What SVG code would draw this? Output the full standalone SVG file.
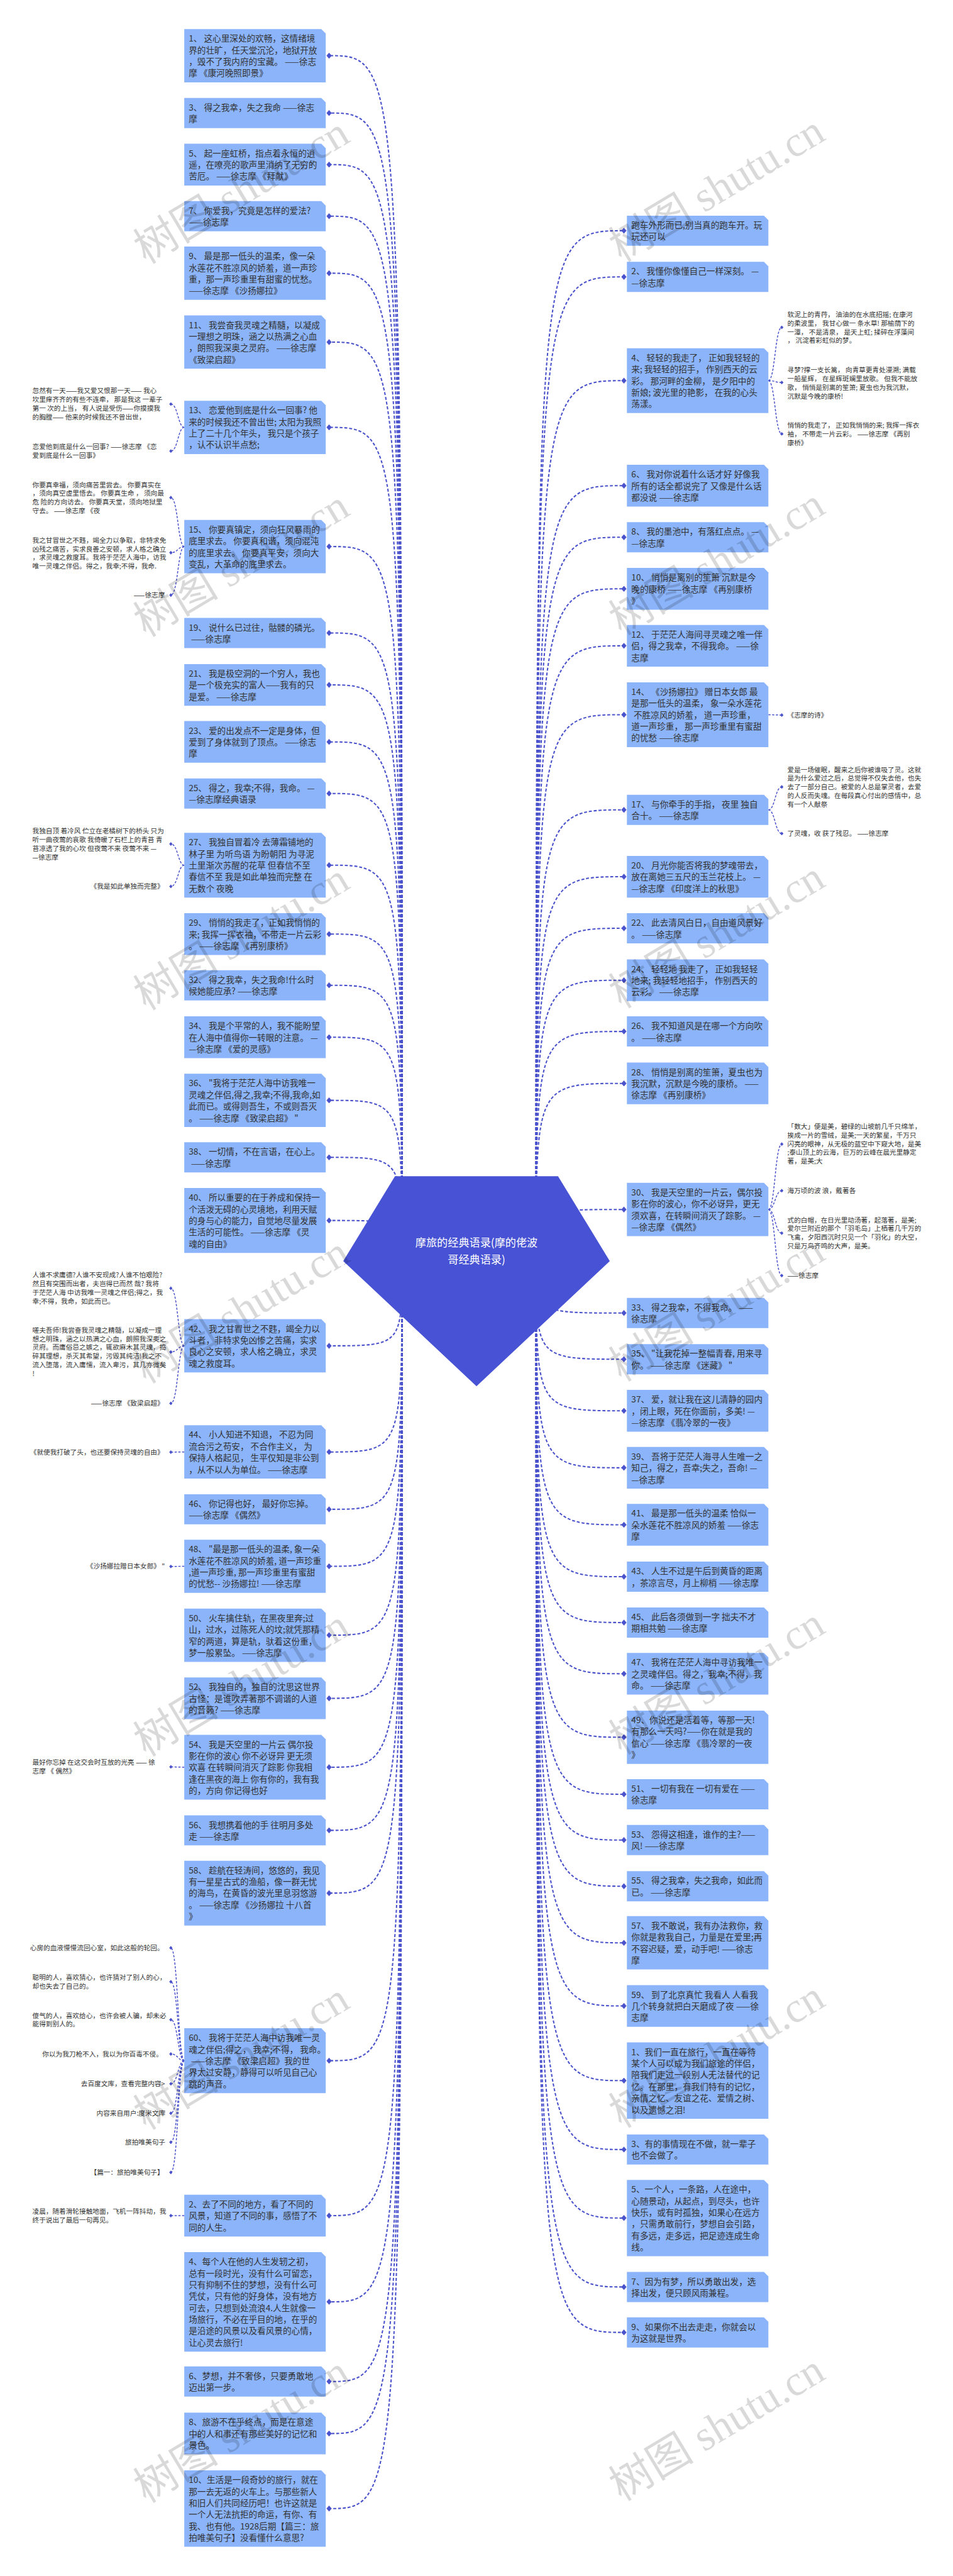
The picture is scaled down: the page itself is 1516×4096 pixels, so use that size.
<svg xmlns="http://www.w3.org/2000/svg" width="1516" height="4096" viewBox="0 0 1516 4096">
<defs>
<style>
.nb{fill:#8BB4FA}
.nt{font-family:"Noto Sans CJK SC","Noto Sans",sans-serif;font-size:23px;fill:#333}
.st{font-family:"Noto Sans CJK SC","Noto Sans",sans-serif;font-size:18px;fill:#333}
.se{font-family:"Noto Sans CJK SC","Noto Sans",sans-serif;font-size:18px;fill:#333;text-anchor:end}
.mc{fill:none;stroke:#4A52CC;stroke-width:3.5;stroke-dasharray:8 5;marker-end:url(#dm)}
.sc{fill:none;stroke:#4A52CC;stroke-width:2.5;stroke-dasharray:6 4;marker-end:url(#ds)}
.rt{font-family:"Noto Sans CJK SC","Noto Sans",sans-serif;font-size:29px;fill:#fff;text-anchor:middle}
.wm{font-family:"Liberation Serif","Noto Sans CJK SC",serif;font-size:115px;fill:#000;fill-opacity:0.15;text-anchor:middle}
</style>
<marker id="dm" markerUnits="userSpaceOnUse" markerWidth="14" markerHeight="16" refX="7" refY="8" viewBox="0 0 14 16"><path d="M0 8L7 0L14 8L7 16Z" fill="#4A52CC"/></marker>
<marker id="ds" markerUnits="userSpaceOnUse" markerWidth="9" markerHeight="10" refX="4.5" refY="5" viewBox="0 0 9 10"><path d="M0 5L4.5 0L9 5L4.5 10Z" fill="#4A52CC"/></marker>
</defs>
<rect width="1516" height="4096" fill="#fff"/>
<g transform="scale(0.5922)">
<g id="connectors">
<path class="mc" d="M1080 3386C1080 149.5 1080 149.5 884 149.5"/>
<path class="mc" d="M1080 3386C1080 303.5 1080 303.5 884 303.5"/>
<path class="mc" d="M1080 3386C1080 442 1080 442 884 442"/>
<path class="mc" d="M1080 3386C1080 580.5 1080 580.5 884 580.5"/>
<path class="mc" d="M1080 3386C1080 733.5 1080 733.5 884 733.5"/>
<path class="mc" d="M1080 3386C1080 918.5 1080 918.5 884 918.5"/>
<path class="mc" d="M1080 3386C1080 1147.5 1080 1147.5 884 1147.5"/>
<path class="mc" d="M1080 3386C1080 1467.5 1080 1467.5 884 1467.5"/>
<path class="mc" d="M1080 3386C1080 1699.5 1080 1699.5 884 1699.5"/>
<path class="mc" d="M1080 3386C1080 1839 1080 1839 884 1839"/>
<path class="mc" d="M1080 3386C1080 1992 1080 1992 884 1992"/>
<path class="mc" d="M1080 3386C1080 2130.5 1080 2130.5 884 2130.5"/>
<path class="mc" d="M1080 3386C1080 2323 1080 2323 884 2323"/>
<path class="mc" d="M1080 3386C1080 2508 1080 2508 884 2508"/>
<path class="mc" d="M1080 3386C1080 2645.5 1080 2645.5 884 2645.5"/>
<path class="mc" d="M1080 3386C1080 2785 1080 2785 884 2785"/>
<path class="mc" d="M1080 3386C1080 2954.5 1080 2954.5 884 2954.5"/>
<path class="mc" d="M1080 3386C1080 3107.5 1080 3107.5 884 3107.5"/>
<path class="mc" d="M1080 3386C1080 3277 1080 3277 884 3277"/>
<path class="mc" d="M1080 3386C1080 3613.5 1080 3613.5 884 3613.5"/>
<path class="mc" d="M1080 3386C1080 3898.5 1080 3898.5 884 3898.5"/>
<path class="mc" d="M1080 3386C1080 4052.5 1080 4052.5 884 4052.5"/>
<path class="mc" d="M1080 3386C1080 4205.5 1080 4205.5 884 4205.5"/>
<path class="mc" d="M1080 3386C1080 4390.5 1080 4390.5 884 4390.5"/>
<path class="mc" d="M1080 3386C1080 4560 1080 4560 884 4560"/>
<path class="mc" d="M1080 3386C1080 4745 1080 4745 884 4745"/>
<path class="mc" d="M1080 3386C1080 4914.5 1080 4914.5 884 4914.5"/>
<path class="mc" d="M1080 3386C1080 5083 1080 5083 884 5083"/>
<path class="mc" d="M1080 3386C1080 5533 1080 5533 884 5533"/>
<path class="mc" d="M1080 3386C1080 5949 1080 5949 884 5949"/>
<path class="mc" d="M1080 3386C1080 6180.5 1080 6180.5 884 6180.5"/>
<path class="mc" d="M1080 3386C1080 6394.5 1080 6394.5 884 6394.5"/>
<path class="mc" d="M1080 3386C1080 6534 1080 6534 884 6534"/>
<path class="mc" d="M1080 3386C1080 6735.5 1080 6735.5 884 6735.5"/>
<path class="mc" d="M1440 3386C1440 619.5 1440 619.5 1676 619.5"/>
<path class="mc" d="M1440 3386C1440 743.5 1440 743.5 1676 743.5"/>
<path class="mc" d="M1440 3386C1440 1022 1440 1022 1676 1022"/>
<path class="mc" d="M1440 3386C1440 1304 1440 1304 1676 1304"/>
<path class="mc" d="M1440 3386C1440 1442.5 1440 1442.5 1676 1442.5"/>
<path class="mc" d="M1440 3386C1440 1581 1440 1581 1676 1581"/>
<path class="mc" d="M1440 3386C1440 1734 1440 1734 1676 1734"/>
<path class="mc" d="M1440 3386C1440 1919 1440 1919 1676 1919"/>
<path class="mc" d="M1440 3386C1440 2174.5 1440 2174.5 1676 2174.5"/>
<path class="mc" d="M1440 3386C1440 2354 1440 2354 1676 2354"/>
<path class="mc" d="M1440 3386C1440 2492.5 1440 2492.5 1676 2492.5"/>
<path class="mc" d="M1440 3386C1440 2632 1440 2632 1676 2632"/>
<path class="mc" d="M1440 3386C1440 2769.5 1440 2769.5 1676 2769.5"/>
<path class="mc" d="M1440 3386C1440 2909 1440 2909 1676 2909"/>
<path class="mc" d="M1440 3386C1440 3247.5 1440 3247.5 1676 3247.5"/>
<path class="mc" d="M1440 3386C1440 3525.5 1440 3525.5 1676 3525.5"/>
<path class="mc" d="M1440 3386C1440 3649.5 1440 3649.5 1676 3649.5"/>
<path class="mc" d="M1440 3386C1440 3788 1440 3788 1676 3788"/>
<path class="mc" d="M1440 3386C1440 3941 1440 3941 1676 3941"/>
<path class="mc" d="M1440 3386C1440 4094 1440 4094 1676 4094"/>
<path class="mc" d="M1440 3386C1440 4233.5 1440 4233.5 1676 4233.5"/>
<path class="mc" d="M1440 3386C1440 4356.5 1440 4356.5 1676 4356.5"/>
<path class="mc" d="M1440 3386C1440 4494 1440 4494 1676 4494"/>
<path class="mc" d="M1440 3386C1440 4664.5 1440 4664.5 1676 4664.5"/>
<path class="mc" d="M1440 3386C1440 4817.5 1440 4817.5 1676 4817.5"/>
<path class="mc" d="M1440 3386C1440 4940.5 1440 4940.5 1676 4940.5"/>
<path class="mc" d="M1440 3386C1440 5064.5 1440 5064.5 1676 5064.5"/>
<path class="mc" d="M1440 3386C1440 5216.5 1440 5216.5 1676 5216.5"/>
<path class="mc" d="M1440 3386C1440 5386 1440 5386 1676 5386"/>
<path class="mc" d="M1440 3386C1440 5586.5 1440 5586.5 1676 5586.5"/>
<path class="mc" d="M1440 3386C1440 5771.5 1440 5771.5 1676 5771.5"/>
<path class="mc" d="M1440 3386C1440 5955.5 1440 5955.5 1676 5955.5"/>
<path class="mc" d="M1440 3386C1440 6140.5 1440 6140.5 1676 6140.5"/>
<path class="mc" d="M1440 3386C1440 6262.5 1440 6262.5 1676 6262.5"/>
<path class="sc" d="M495 1147.5C478 1147.5 478 1085 459 1085"/>
<path class="sc" d="M495 1147.5C478 1147.5 478 1211 459 1211"/>
<path class="sc" d="M495 1467.5C478 1467.5 478 1336 459 1336"/>
<path class="sc" d="M495 1467.5C478 1467.5 478 1484 459 1484"/>
<path class="sc" d="M495 1467.5C478 1467.5 478 1598 459 1598"/>
<path class="sc" d="M495 2323C478 2323 478 2266 459 2266"/>
<path class="sc" d="M495 2323C478 2323 478 2380 459 2380"/>
<path class="sc" d="M495 3613.5C478 3613.5 478 3459 459 3459"/>
<path class="sc" d="M495 3613.5C478 3613.5 478 3630 459 3630"/>
<path class="sc" d="M495 3613.5C478 3613.5 478 3768 459 3768"/>
<path class="sc" d="M495 3898.5L459 3899"/>
<path class="sc" d="M495 4205.5L459 4206"/>
<path class="sc" d="M495 4745L459 4744"/>
<path class="sc" d="M495 5533C478 5533 478 5230 459 5230"/>
<path class="sc" d="M495 5533C478 5533 478 5321 459 5321"/>
<path class="sc" d="M495 5533C478 5533 478 5423 459 5423"/>
<path class="sc" d="M495 5533C478 5533 478 5515 459 5515"/>
<path class="sc" d="M495 5533C478 5533 478 5595 459 5595"/>
<path class="sc" d="M495 5533C478 5533 478 5674 459 5674"/>
<path class="sc" d="M495 5533C478 5533 478 5752 459 5752"/>
<path class="sc" d="M495 5533C478 5533 478 5833 459 5833"/>
<path class="sc" d="M495 5949L459 5949"/>
<path class="sc" d="M2064 1022C2082 1022 2082 879 2100 879"/>
<path class="sc" d="M2064 1022C2082 1022 2082 1027 2100 1027"/>
<path class="sc" d="M2064 1022C2082 1022 2082 1165 2100 1165"/>
<path class="sc" d="M2064 1919L2100 1920"/>
<path class="sc" d="M2064 2174.5C2082 2174.5 2082 2113 2100 2113"/>
<path class="sc" d="M2064 2174.5C2082 2174.5 2082 2238 2100 2238"/>
<path class="sc" d="M2064 3247.5C2082 3247.5 2082 3072 2100 3072"/>
<path class="sc" d="M2064 3247.5C2082 3247.5 2082 3197 2100 3197"/>
<path class="sc" d="M2064 3247.5C2082 3247.5 2082 3311 2100 3311"/>
<path class="sc" d="M2064 3247.5C2082 3247.5 2082 3425 2100 3425"/>
</g>
<g id="root">
<polygon points="1061,3158 1499,3158 1638,3386 1280,3722 922,3386" fill="#4752D4"/>
<text class="rt" x="1280" y="3346">摩旅的经典语录(摩的佬波</text>
<text class="rt" x="1280" y="3392">哥经典语录)</text>
</g>
<g id="n-l1"><path class="nb" d="M495 78H863L875 90V221H495Z"/><text class="nt" x="507" y="112"><tspan x="507">1、 这心里深处的欢畅，这情绪境</tspan><tspan x="507" dy="31">界的壮旷，任天堂沉沦，地狱开放</tspan><tspan x="507" dy="31">，毁不了我内府的宝藏。 ——徐志</tspan><tspan x="507" dy="31">摩 《康河晚照即景》</tspan></text></g>
<g id="n-l3"><path class="nb" d="M495 263H863L875 275V344H495Z"/><text class="nt" x="507" y="297"><tspan x="507">3、 得之我幸，失之我命 ——徐志</tspan><tspan x="507" dy="31">摩</tspan></text></g>
<g id="n-l5"><path class="nb" d="M495 386H863L875 398V498H495Z"/><text class="nt" x="507" y="420"><tspan x="507">5、 起一座虹桥，指点着永恒的逍</tspan><tspan x="507" dy="31">遥，在嘹亮的歌声里消纳了无穷的</tspan><tspan x="507" dy="31">苦厄。 ——徐志摩 《拜献》</tspan></text></g>
<g id="n-l7"><path class="nb" d="M495 540H863L875 552V621H495Z"/><text class="nt" x="507" y="574"><tspan x="507">7、 你爱我，究竟是怎样的爱法?</tspan><tspan x="507" dy="31">——徐志摩</tspan></text></g>
<g id="n-l9"><path class="nb" d="M495 662H863L875 674V805H495Z"/><text class="nt" x="507" y="696"><tspan x="507">9、 最是那一低头的温柔，像一朵</tspan><tspan x="507" dy="31">水莲花不胜凉风的娇羞，道一声珍</tspan><tspan x="507" dy="31">重，那一声珍重里有甜蜜的忧愁。</tspan><tspan x="507" dy="31">——徐志摩 《沙扬娜拉》</tspan></text></g>
<g id="n-l11"><path class="nb" d="M495 847H863L875 859V990H495Z"/><text class="nt" x="507" y="881"><tspan x="507">11、 我尝奋我灵魂之精髓，以凝成</tspan><tspan x="507" dy="31">一理想之明珠，涵之以热满之心血</tspan><tspan x="507" dy="31">，朗照我深奥之灵府。 ——徐志摩</tspan><tspan x="507" dy="31">《致梁启超》</tspan></text></g>
<g id="n-l13"><path class="nb" d="M495 1076H863L875 1088V1219H495Z"/><text class="nt" x="507" y="1110"><tspan x="507">13、 恋爱他到底是什么一回事? 他</tspan><tspan x="507" dy="31">来的时候我还不曾出世; 太阳为我照</tspan><tspan x="507" dy="31">上了二十几个年头， 我只是个孩子</tspan><tspan x="507" dy="31">，认不认识半点愁;</tspan></text></g>
<g id="n-l13a"><text class="st" x="87" y="1056"><tspan x="87">忽然有一天——我又爱又恨那一天—— 我心</tspan><tspan x="87" dy="23.5">坎里痒齐齐的有些不连牵， 那是我这 一辈子</tspan><tspan x="87" dy="23.5">第一 次的上当， 有人说是受伤——你摸摸我</tspan><tspan x="87" dy="23.5">的胸膛—— 他来的时候我还不曾出世，</tspan></text></g>
<g id="n-l13b"><text class="st" x="87" y="1206"><tspan x="87">恋爱他到底是什么一回事? ——徐志摩 《恋</tspan><tspan x="87" dy="23">爱到底是什么一回事》</tspan></text></g>
<g id="n-l15"><path class="nb" d="M495 1396H863L875 1408V1539H495Z"/><text class="nt" x="507" y="1430"><tspan x="507">15、 你要真镇定，须向狂风暴雨的</tspan><tspan x="507" dy="31">底里求去。 你要真和谐，须向混沌</tspan><tspan x="507" dy="31">的底里求去。 你要真平安，须向大</tspan><tspan x="507" dy="31">变乱，大革命的底里求去。</tspan></text></g>
<g id="n-l15a"><text class="st" x="87" y="1308"><tspan x="87">你要真幸福，须向痛苦里尝去。 你要真实在</tspan><tspan x="87" dy="23.3">，须向真空虚里悟去。 你要真生命 ， 须向最</tspan><tspan x="87" dy="23.3">危 险的方向访去。 你要真天堂，须向地狱里</tspan><tspan x="87" dy="23.3">守去。 ——徐志摩 《夜</tspan></text></g>
<g id="n-l15b"><text class="st" x="87" y="1457"><tspan x="87">我之甘冒世之不韪，竭全力以争取，非特求免</tspan><tspan x="87" dy="23.3">凶残之痛苦，实求良善之安顿，求人格之确立</tspan><tspan x="87" dy="23.3">，求灵魂之救度耳。我将于茫茫人海中，访我</tspan><tspan x="87" dy="23.3">唯一灵魂之伴侣。得之，我幸;不得，我命.</tspan></text></g>
<g id="n-l15c"><text class="se" x="443" y="1605">——徐志摩</text></g>
<g id="n-l19"><path class="nb" d="M495 1659H863L875 1671V1740H495Z"/><text class="nt" x="507" y="1693"><tspan x="507">19、 说什么已过往，骷髅的磷光。</tspan><tspan x="513" dy="31">——徐志摩</tspan></text></g>
<g id="n-l21"><path class="nb" d="M495 1783H863L875 1795V1895H495Z"/><text class="nt" x="507" y="1817"><tspan x="507">21、 我是极空洞的一个穷人，我也</tspan><tspan x="507" dy="31">是一个极充实的富人——我有的只</tspan><tspan x="507" dy="31">是爱。 ——徐志摩</tspan></text></g>
<g id="n-l23"><path class="nb" d="M495 1936H863L875 1948V2048H495Z"/><text class="nt" x="507" y="1970"><tspan x="507">23、 爱的出发点不一定是身体，但</tspan><tspan x="507" dy="31">爱到了身体就到了顶点。 ——徐志</tspan><tspan x="507" dy="31">摩</tspan></text></g>
<g id="n-l25"><path class="nb" d="M495 2090H863L875 2102V2171H495Z"/><text class="nt" x="507" y="2124"><tspan x="507">25、 得之，我幸;不得，我命。 —</tspan><tspan x="507" dy="31">—徐志摩经典语录</tspan></text></g>
<g id="n-l27"><path class="nb" d="M495 2236H863L875 2248V2410H495Z"/><text class="nt" x="507" y="2270"><tspan x="507">27、 我独自冒着冷 去薄霜铺地的</tspan><tspan x="507" dy="31">林子里 为听鸟语 为盼朝阳 为寻泥</tspan><tspan x="507" dy="31">土里渐次苏醒的花草 但春信不至</tspan><tspan x="507" dy="31">春信不至 我是如此单独而完整 在</tspan><tspan x="507" dy="31">无数个 夜晚</tspan></text></g>
<g id="n-l27a"><text class="st" x="87" y="2238"><tspan x="87">我独自顶 着冷风 伫立在老橘树下的桥头 只为</tspan><tspan x="87" dy="23.3">听一曲夜莺的哀歌 我倚暖了石栏上的青苔 青</tspan><tspan x="87" dy="23.3">苔凉透了我的心坎 但夜莺不来 夜莺不来 —</tspan><tspan x="87" dy="23.3">—徐志摩</tspan></text></g>
<g id="n-l27b"><text class="se" x="440" y="2386">《我是如此单独而完整》</text></g>
<g id="n-l29"><path class="nb" d="M495 2452H863L875 2464V2564H495Z"/><text class="nt" x="507" y="2486"><tspan x="507">29、 悄悄的我走了，正如我悄悄的</tspan><tspan x="507" dy="31">来; 我挥一挥衣袖，不带走一片云彩</tspan><tspan x="507" dy="31">。 ——徐志摩 《再别康桥》</tspan></text></g>
<g id="n-l32"><path class="nb" d="M495 2605H863L875 2617V2686H495Z"/><text class="nt" x="507" y="2639"><tspan x="507">32、 得之我幸，失之我命!什么时</tspan><tspan x="507" dy="31">候她能应承? ——徐志摩</tspan></text></g>
<g id="n-l34"><path class="nb" d="M495 2729H863L875 2741V2841H495Z"/><text class="nt" x="507" y="2763"><tspan x="507">34、 我是个平常的人，我不能盼望</tspan><tspan x="507" dy="31">在人海中值得你一转眼的注意。 —</tspan><tspan x="507" dy="31">—徐志摩 《爱的灵感》</tspan></text></g>
<g id="n-l36"><path class="nb" d="M495 2883H863L875 2895V3026H495Z"/><text class="nt" x="507" y="2917"><tspan x="507">36、 "我将于茫茫人海中访我唯一</tspan><tspan x="507" dy="31">灵魂之伴侣,得之,我幸;不得,我命,如</tspan><tspan x="507" dy="31">此而已。或得则吾生，不或则吾灭</tspan><tspan x="507" dy="31">。 ——徐志摩 《致梁启超》 "</tspan></text></g>
<g id="n-l38"><path class="nb" d="M495 3067H863L875 3079V3148H495Z"/><text class="nt" x="507" y="3101"><tspan x="507">38、 一切情，不在言语，在心上。</tspan><tspan x="513" dy="31">——徐志摩</tspan></text></g>
<g id="n-l40"><path class="nb" d="M495 3190H863L875 3202V3364H495Z"/><text class="nt" x="507" y="3224"><tspan x="507">40、 所以重要的在于养成和保持一</tspan><tspan x="507" dy="31">个活泼无碍的心灵境地，利用天赋</tspan><tspan x="507" dy="31">的身与心的能力，自觉地尽量发展</tspan><tspan x="507" dy="31">生活的可能性。 ——徐志摩 《灵</tspan><tspan x="507" dy="31">魂的自由》</tspan></text></g>
<g id="n-l42"><path class="nb" d="M495 3542H863L875 3554V3685H495Z"/><text class="nt" x="507" y="3576"><tspan x="507">42、 我之甘冒世之不韪，竭全力以</tspan><tspan x="507" dy="31">斗者，非特求免凶惨之苦痛，实求</tspan><tspan x="507" dy="31">良心之安顿，求人格之确立，求灵</tspan><tspan x="507" dy="31">魂之救度耳。</tspan></text></g>
<g id="n-l42a"><text class="st" x="87" y="3430"><tspan x="87">人谁不求庸德?人谁不安现成?人谁不怕艰险?</tspan><tspan x="87" dy="23.3">然且有突围而出者，夫岂得已而然 哉? 我将</tspan><tspan x="87" dy="23.3">于茫茫人海 中访我唯一灵魂之伴侣;得之，我</tspan><tspan x="87" dy="23.3">幸;不得，我命，如此而已。</tspan></text></g>
<g id="n-l42b"><text class="st" x="87" y="3578"><tspan x="87">嗟夫吾师!我尝奋我灵魂之精髓，以凝成一理</tspan><tspan x="87" dy="23.3">想之明珠，涵之以热满之心血，朗照我深奥之</tspan><tspan x="87" dy="23.3">灵府。而庸俗忌之嫉之，辄欲麻木其灵魂，捣</tspan><tspan x="87" dy="23.3">碎其理想，杀灭其希望，污毁其纯洁!我之不</tspan><tspan x="87" dy="23.3">流入堕落，流入庸懦，流入卑污，其几亦微矣</tspan><tspan x="87" dy="23.3">!</tspan></text></g>
<g id="n-l42c"><text class="se" x="440" y="3774">——徐志摩 《致梁启超》</text></g>
<g id="n-l44"><path class="nb" d="M495 3827H863L875 3839V3970H495Z"/><text class="nt" x="507" y="3861"><tspan x="507">44、 小人知进不知退， 不忍为同</tspan><tspan x="507" dy="31">流合污之苟安， 不合作主义， 为</tspan><tspan x="507" dy="31">保持人格起见， 生平仅知是非公到</tspan><tspan x="507" dy="31">，从不以人为单位。 ——徐志摩</tspan></text></g>
<g id="n-l44a"><text class="se" x="440" y="3905">《就使我打破了头，也还要保持灵魂的自由》</text></g>
<g id="n-l46"><path class="nb" d="M495 4012H863L875 4024V4093H495Z"/><text class="nt" x="507" y="4046"><tspan x="507">46、 你记得也好， 最好你忘掉。</tspan><tspan x="507" dy="31">——徐志摩 《偶然》</tspan></text></g>
<g id="n-l48"><path class="nb" d="M495 4134H863L875 4146V4277H495Z"/><text class="nt" x="507" y="4168"><tspan x="507">48、 "最是那一低头的温柔, 象一朵</tspan><tspan x="507" dy="31">水莲花不胜凉风的娇羞, 道一声珍重</tspan><tspan x="507" dy="31">,道一声珍重, 那一声珍重里有蜜甜</tspan><tspan x="507" dy="31">的忧愁-- 沙扬娜拉! ——徐志摩</tspan></text></g>
<g id="n-l48a"><text class="se" x="443" y="4212">《沙扬娜拉赠日本女郎》 "</text></g>
<g id="n-l50"><path class="nb" d="M495 4319H863L875 4331V4462H495Z"/><text class="nt" x="507" y="4353"><tspan x="507">50、 火车擒住轨，在黑夜里奔;过</tspan><tspan x="507" dy="31">山，过水，过陈死人的坟;就凭那精</tspan><tspan x="507" dy="31">窄的两道，算是轨，驮着这份重，</tspan><tspan x="507" dy="31">梦一般累坠。 ——徐志摩</tspan></text></g>
<g id="n-l52"><path class="nb" d="M495 4504H863L875 4516V4616H495Z"/><text class="nt" x="507" y="4538"><tspan x="507">52、 我独自的，独自的沈思这世界</tspan><tspan x="507" dy="31">古怪：是谁吹弄著那不调谐的人道</tspan><tspan x="507" dy="31">的音籁? ——徐志摩</tspan></text></g>
<g id="n-l54"><path class="nb" d="M495 4658H863L875 4670V4832H495Z"/><text class="nt" x="507" y="4692"><tspan x="507">54、 我是天空里的一片云 偶尔投</tspan><tspan x="507" dy="31">影在你的波心 你不必讶异 更无须</tspan><tspan x="507" dy="31">欢喜 在转瞬间消灭了踪影 你我相</tspan><tspan x="507" dy="31">逢在黑夜的海上 你有你的，我有我</tspan><tspan x="507" dy="31">的，方向 你记得也好</tspan></text></g>
<g id="n-l54a"><text class="st" x="87" y="4739"><tspan x="87">最好你忘掉 在这交会时互放的光亮 —— 徐</tspan><tspan x="87" dy="23.3">志摩 《 偶然》</tspan></text></g>
<g id="n-l56"><path class="nb" d="M495 4874H863L875 4886V4955H495Z"/><text class="nt" x="507" y="4908"><tspan x="507">56、 我想携着他的手 往明月多处</tspan><tspan x="507" dy="31">走 ——徐志摩</tspan></text></g>
<g id="n-l58"><path class="nb" d="M495 4996H863L875 5008V5170H495Z"/><text class="nt" x="507" y="5030"><tspan x="507">58、 趁航在轻涛间，悠悠的，我见</tspan><tspan x="507" dy="31">有一星星古式的渔船，像一群无忧</tspan><tspan x="507" dy="31">的海鸟，在黄昏的波光里息羽悠游</tspan><tspan x="507" dy="31">。 ——徐志摩 《沙扬娜拉 十八首</tspan><tspan x="507" dy="31">》</tspan></text></g>
<g id="n-l60"><path class="nb" d="M495 5446H863L875 5458V5620H495Z"/><text class="nt" x="507" y="5480"><tspan x="507">60、 我将于茫茫人海中访我唯一灵</tspan><tspan x="507" dy="31">魂之伴侣;得之， 我幸;不得， 我命。</tspan><tspan x="513" dy="31">——徐志摩 《致梁启超》我的世</tspan><tspan x="507" dy="31">界太过安静，静得可以听见自己心</tspan><tspan x="507" dy="31">跳的声音。</tspan></text></g>
<g id="n-l60a"><text class="se" x="440" y="5236">心房的血液慢慢流回心室，如此这般的轮回。</text></g>
<g id="n-l60b"><text class="st" x="87" y="5316"><tspan x="87">聪明的人，喜欢猜心，也许猜对了别人的心，</tspan><tspan x="87" dy="23.3">却也失去了自己的。</tspan></text></g>
<g id="n-l60c"><text class="st" x="87" y="5418"><tspan x="87">傻气的人，喜欢给心，也许会被人骗，却未必</tspan><tspan x="87" dy="23.3">能得到别人的。</tspan></text></g>
<g id="n-l60d"><text class="se" x="437" y="5521">你以为我刀枪不入，我以为你百毒不侵。</text></g>
<g id="n-l60e"><text class="se" x="443" y="5601">去百度文库，查看完整内容&gt;</text></g>
<g id="n-l60f"><text class="se" x="444" y="5680">内容来自用户:度米文库</text></g>
<g id="n-l60g"><text class="se" x="444" y="5758">旅拍唯美句子</text></g>
<g id="n-l60h"><text class="se" x="440" y="5839">【篇一：旅拍唯美句子】</text></g>
<g id="n-l2b"><path class="nb" d="M495 5893H863L875 5905V6005H495Z"/><text class="nt" x="507" y="5927"><tspan x="507">2、去了不同的地方，看了不同的</tspan><tspan x="507" dy="31">风景，知道了不同的事，感悟了不</tspan><tspan x="507" dy="31">同的人生。</tspan></text></g>
<g id="n-l2ba"><text class="st" x="87" y="5944"><tspan x="87">凌晨，随着滑轮接触地面，飞机一阵抖动，我</tspan><tspan x="87" dy="23.3">终于说出了最后一句再见。</tspan></text></g>
<g id="n-l4b"><path class="nb" d="M495 6047H863L875 6059V6314H495Z"/><text class="nt" x="507" y="6081"><tspan x="507">4、每个人在他的人生发轫之初，</tspan><tspan x="507" dy="31">总有一段时光，没有什么可留恋，</tspan><tspan x="507" dy="31">只有抑制不住的梦想，没有什么可</tspan><tspan x="507" dy="31">凭仗，只有他的好身体，没有地方</tspan><tspan x="507" dy="31">可去，只想到处流浪4.人生就像一</tspan><tspan x="507" dy="31">场旅行，不必在乎目的地，在乎的</tspan><tspan x="507" dy="31">是沿途的风景以及看风景的心情，</tspan><tspan x="507" dy="31">让心灵去旅行!</tspan></text></g>
<g id="n-l6b"><path class="nb" d="M495 6354H863L875 6366V6435H495Z"/><text class="nt" x="507" y="6388"><tspan x="507">6、梦想，并不奢侈，只要勇敢地</tspan><tspan x="507" dy="31">迈出第一步。</tspan></text></g>
<g id="n-l8b"><path class="nb" d="M495 6478H863L875 6490V6590H495Z"/><text class="nt" x="507" y="6512"><tspan x="507">8、旅游不在乎终点，而是在意途</tspan><tspan x="507" dy="31">中的人和事还有那些美好的记忆和</tspan><tspan x="507" dy="31">景色。</tspan></text></g>
<g id="n-l10b"><path class="nb" d="M495 6633H863L875 6645V6838H495Z"/><text class="nt" x="507" y="6667"><tspan x="507">10、生活是一段奇妙的旅行，就在</tspan><tspan x="507" dy="31">那一去无返的火车上。与那些新人</tspan><tspan x="507" dy="31">和旧人们共同经历吧！也许这就是</tspan><tspan x="507" dy="31">一个人无法抗拒的命运，有你、有</tspan><tspan x="507" dy="31">我、也有他。1928后期【篇三：旅</tspan><tspan x="507" dy="31">拍唯美句子】没看懂什么意思?</tspan></text></g>
<g id="n-r0"><path class="nb" d="M1684 579H2052L2064 591V660H1684Z"/><text class="nt" x="1696" y="613"><tspan x="1696">跑车外形而已,别当真的跑车开。玩</tspan><tspan x="1696" dy="31">玩还可以</tspan></text></g>
<g id="n-r2"><path class="nb" d="M1684 703H2052L2064 715V784H1684Z"/><text class="nt" x="1696" y="737"><tspan x="1696">2、 我懂你像懂自己一样深刻。 —</tspan><tspan x="1696" dy="31">—徐志摩</tspan></text></g>
<g id="n-r4"><path class="nb" d="M1684 935H2052L2064 947V1109H1684Z"/><text class="nt" x="1696" y="969"><tspan x="1696">4、 轻轻的我走了， 正如我轻轻的</tspan><tspan x="1696" dy="31">来; 我轻轻的招手， 作别西天的云</tspan><tspan x="1696" dy="31">彩。 那河畔的金柳， 是夕阳中的</tspan><tspan x="1696" dy="31">新娘; 波光里的艳影， 在我的心头</tspan><tspan x="1696" dy="31">荡漾。</tspan></text></g>
<g id="n-r4a"><text class="st" x="2115" y="851"><tspan x="2115">软泥上的青荇， 油油的在水底招摇; 在康河</tspan><tspan x="2115" dy="23.3">的柔波里， 我甘心做一 条水草! 那榆荫下的</tspan><tspan x="2115" dy="23.3">一潭， 不是清泉， 是天上虹; 揉碎在浮藻间</tspan><tspan x="2115" dy="23.3">， 沉淀着彩虹似的梦。</tspan></text></g>
<g id="n-r4b"><text class="st" x="2115" y="1000"><tspan x="2115">寻梦?撑一支长篙， 向青草更青处漫溯; 满载</tspan><tspan x="2115" dy="23.3">一船星辉， 在星辉斑斓里放歌。 但我不能放</tspan><tspan x="2115" dy="23.3">歌， 悄悄是别离的笙箫; 夏虫也为我沉默，</tspan><tspan x="2115" dy="23.3">沉默是今晚的康桥!</tspan></text></g>
<g id="n-r4c"><text class="st" x="2115" y="1149"><tspan x="2115">悄悄的我走了， 正如我悄悄的来; 我挥一挥衣</tspan><tspan x="2115" dy="23.3">袖， 不带走一片云彩。 ——徐志摩 《再别</tspan><tspan x="2115" dy="23.3">康桥》</tspan></text></g>
<g id="n-r6"><path class="nb" d="M1684 1248H2052L2064 1260V1360H1684Z"/><text class="nt" x="1696" y="1282"><tspan x="1696">6、 我对你说着什么话才好 好像我</tspan><tspan x="1696" dy="31">所有的话全都说完了 又像是什么话</tspan><tspan x="1696" dy="31">都没说 ——徐志摩</tspan></text></g>
<g id="n-r8"><path class="nb" d="M1684 1402H2052L2064 1414V1483H1684Z"/><text class="nt" x="1696" y="1436"><tspan x="1696">8、 我的墨池中，有落红点点。 —</tspan><tspan x="1696" dy="31">—徐志摩</tspan></text></g>
<g id="n-r10"><path class="nb" d="M1684 1525H2052L2064 1537V1637H1684Z"/><text class="nt" x="1696" y="1559"><tspan x="1696">10、 悄悄是离别的笙箫 沉默是今</tspan><tspan x="1696" dy="31">晚的康桥 ——徐志摩 《再别康桥</tspan><tspan x="1696" dy="31">》</tspan></text></g>
<g id="n-r12"><path class="nb" d="M1684 1678H2052L2064 1690V1790H1684Z"/><text class="nt" x="1696" y="1712"><tspan x="1696">12、 于茫茫人海间寻灵魂之唯一伴</tspan><tspan x="1696" dy="31">侣，得之我幸，不得我命。 ——徐</tspan><tspan x="1696" dy="31">志摩</tspan></text></g>
<g id="n-r14"><path class="nb" d="M1684 1832H2052L2064 1844V2006H1684Z"/><text class="nt" x="1696" y="1866"><tspan x="1696">14、 《沙扬娜拉》 赠日本女郎 最</tspan><tspan x="1696" dy="31">是那一低头的温柔， 象一朵水莲花</tspan><tspan x="1702" dy="31">不胜凉风的娇羞， 道一声珍重，</tspan><tspan x="1696" dy="31">道一声珍重， 那一声珍重里有蜜甜</tspan><tspan x="1696" dy="31">的忧愁 ——徐志摩</tspan></text></g>
<g id="n-r14a"><text class="st" x="2115" y="1926">《志摩的诗》</text></g>
<g id="n-r17"><path class="nb" d="M1684 2134H2052L2064 2146V2215H1684Z"/><text class="nt" x="1696" y="2168"><tspan x="1696">17、 与你牵手的手指， 夜里 独自</tspan><tspan x="1696" dy="31">合十。 ——徐志摩</tspan></text></g>
<g id="n-r17a"><text class="st" x="2115" y="2073"><tspan x="2115">爱是一场催眠，醒来之后你被谁吸了灵。这就</tspan><tspan x="2115" dy="23.3">是为什么爱过之后，总觉得不仅失去他，也失</tspan><tspan x="2115" dy="23.3">去了一部分自己。被爱的人总是掌灵者，去爱</tspan><tspan x="2115" dy="23.3">的人反而失魂。在每段真心付出的感情中，总</tspan><tspan x="2115" dy="23.3">有一个人献祭</tspan></text></g>
<g id="n-r17b"><text class="st" x="2115" y="2244">了灵魂，收 获了残忍。 ——徐志摩</text></g>
<g id="n-r20"><path class="nb" d="M1684 2298H2052L2064 2310V2410H1684Z"/><text class="nt" x="1696" y="2332"><tspan x="1696">20、 月光你能否将我的梦魂带去，</tspan><tspan x="1696" dy="31">放在离她三五尺的玉兰花枝上。 —</tspan><tspan x="1696" dy="31">—徐志摩 《印度洋上的秋思》</tspan></text></g>
<g id="n-r22"><path class="nb" d="M1684 2452H2052L2064 2464V2533H1684Z"/><text class="nt" x="1696" y="2486"><tspan x="1696">22、 此去清风白日，自由道风景好</tspan><tspan x="1696" dy="31">。 ——徐志摩</tspan></text></g>
<g id="n-r24"><path class="nb" d="M1684 2576H2052L2064 2588V2688H1684Z"/><text class="nt" x="1696" y="2610"><tspan x="1696">24、 轻轻地 我走了， 正如我轻轻</tspan><tspan x="1696" dy="31">地来; 我轻轻地招手， 作别西天的</tspan><tspan x="1696" dy="31">云彩。 ——徐志摩</tspan></text></g>
<g id="n-r26"><path class="nb" d="M1684 2729H2052L2064 2741V2810H1684Z"/><text class="nt" x="1696" y="2763"><tspan x="1696">26、 我不知道风是在哪一个方向吹</tspan><tspan x="1696" dy="31">。 ——徐志摩</tspan></text></g>
<g id="n-r28"><path class="nb" d="M1684 2853H2052L2064 2865V2965H1684Z"/><text class="nt" x="1696" y="2887"><tspan x="1696">28、 悄悄是别离的笙箫，夏虫也为</tspan><tspan x="1696" dy="31">我沉默，沉默是今晚的康桥。 ——</tspan><tspan x="1696" dy="31">徐志摩 《再别康桥》</tspan></text></g>
<g id="n-r30"><path class="nb" d="M1684 3176H2052L2064 3188V3319H1684Z"/><text class="nt" x="1696" y="3210"><tspan x="1696">30、 我是天空里的一片云，偶尔投</tspan><tspan x="1696" dy="31">影在你的波心，你不必讶异，更无</tspan><tspan x="1696" dy="31">须欢喜，在转瞬间消灭了踪影。 —</tspan><tspan x="1696" dy="31">—徐志摩 《偶然》</tspan></text></g>
<g id="n-r30a"><text class="st" x="2115" y="3031"><tspan x="2115">「数大」便是美，碧绿的山坡前几千只绵羊，</tspan><tspan x="2115" dy="23.3">挨成一片的雪绒，是美;一天的繁星，千万只</tspan><tspan x="2115" dy="23.3">闪亮的眼神，从无极的蓝空中下窥大地，是美</tspan><tspan x="2115" dy="23.3">;泰山顶上的云海，巨万的云峰在晨光里静定</tspan><tspan x="2115" dy="23.3">著，是美;大</tspan></text></g>
<g id="n-r30b"><text class="st" x="2115" y="3203">海万顷的波 浪，戴著各</text></g>
<g id="n-r30c"><text class="st" x="2115" y="3282"><tspan x="2115">式的白帽，在日光里动汤著，起落著，是美;</tspan><tspan x="2115" dy="23.3">爱尔兰附近的那个「羽毛岛」上栖著几千万的</tspan><tspan x="2115" dy="23.3">飞禽，夕阳西沉时只见一个「羽化」的大空，</tspan><tspan x="2115" dy="23.3">只是万鸟齐鸣的大声，是美。</tspan></text></g>
<g id="n-r30d"><text class="st" x="2115" y="3431">——徐志摩</text></g>
<g id="n-r33"><path class="nb" d="M1684 3485H2052L2064 3497V3566H1684Z"/><text class="nt" x="1696" y="3519"><tspan x="1696">33、 得之我幸，不得我命。 ——</tspan><tspan x="1696" dy="31">徐志摩</tspan></text></g>
<g id="n-r35"><path class="nb" d="M1684 3609H2052L2064 3621V3690H1684Z"/><text class="nt" x="1696" y="3643"><tspan x="1696">35、 "让我花掉一整幅青春, 用来寻</tspan><tspan x="1696" dy="31">你。 ——徐志摩 《迷藏》 "</tspan></text></g>
<g id="n-r37"><path class="nb" d="M1684 3732H2052L2064 3744V3844H1684Z"/><text class="nt" x="1696" y="3766"><tspan x="1696">37、 爱，就让我在这儿清静的园内</tspan><tspan x="1696" dy="31">，闭上眼，死在你面前，多美! —</tspan><tspan x="1696" dy="31">—徐志摩 《翡冷翠的一夜》</tspan></text></g>
<g id="n-r39"><path class="nb" d="M1684 3885H2052L2064 3897V3997H1684Z"/><text class="nt" x="1696" y="3919"><tspan x="1696">39、 吾将于茫茫人海寻人生唯一之</tspan><tspan x="1696" dy="31">知己，得之，吾幸;失之，吾命! —</tspan><tspan x="1696" dy="31">—徐志摩</tspan></text></g>
<g id="n-r41"><path class="nb" d="M1684 4038H2052L2064 4050V4150H1684Z"/><text class="nt" x="1696" y="4072"><tspan x="1696">41、 最是那一低头的温柔 恰似一</tspan><tspan x="1696" dy="31">朵水莲花不胜凉风的娇羞 ——徐志</tspan><tspan x="1696" dy="31">摩</tspan></text></g>
<g id="n-r43"><path class="nb" d="M1684 4193H2052L2064 4205V4274H1684Z"/><text class="nt" x="1696" y="4227"><tspan x="1696">43、 人生不过是午后到黄昏的距离</tspan><tspan x="1696" dy="31">，茶凉言尽，月上柳梢 ——徐志摩</tspan></text></g>
<g id="n-r45"><path class="nb" d="M1684 4316H2052L2064 4328V4397H1684Z"/><text class="nt" x="1696" y="4350"><tspan x="1696">45、 此后各须做到一字 拙夫不才</tspan><tspan x="1696" dy="31">期相共勉 ——徐志摩</tspan></text></g>
<g id="n-r47"><path class="nb" d="M1684 4438H2052L2064 4450V4550H1684Z"/><text class="nt" x="1696" y="4472"><tspan x="1696">47、 我将在茫茫人海中寻访我唯一</tspan><tspan x="1696" dy="31">之灵魂伴侣。得之，我幸;不得，我</tspan><tspan x="1696" dy="31">命。 ——徐志摩</tspan></text></g>
<g id="n-r49"><path class="nb" d="M1684 4593H2052L2064 4605V4736H1684Z"/><text class="nt" x="1696" y="4627"><tspan x="1696">49、你说还是活着等，等那一天!</tspan><tspan x="1696" dy="31">有那么一天吗?——你在就是我的</tspan><tspan x="1696" dy="31">信心 ——徐志摩 《翡冷翠的一夜</tspan><tspan x="1696" dy="31">》</tspan></text></g>
<g id="n-r51"><path class="nb" d="M1684 4777H2052L2064 4789V4858H1684Z"/><text class="nt" x="1696" y="4811"><tspan x="1696">51、 一切有我在 一切有爱在 ——</tspan><tspan x="1696" dy="31">徐志摩</tspan></text></g>
<g id="n-r53"><path class="nb" d="M1684 4900H2052L2064 4912V4981H1684Z"/><text class="nt" x="1696" y="4934"><tspan x="1696">53、 怨得这相逢，谁作的主?——</tspan><tspan x="1696" dy="31">风! ——徐志摩</tspan></text></g>
<g id="n-r55"><path class="nb" d="M1684 5024H2052L2064 5036V5105H1684Z"/><text class="nt" x="1696" y="5058"><tspan x="1696">55、 得之我幸，失之我命，如此而</tspan><tspan x="1696" dy="31">已。 ——徐志摩</tspan></text></g>
<g id="n-r57"><path class="nb" d="M1684 5145H2052L2064 5157V5288H1684Z"/><text class="nt" x="1696" y="5179"><tspan x="1696">57、 我不敢说，我有办法救你，救</tspan><tspan x="1696" dy="31">你就是救我自己，力量是在爱里;再</tspan><tspan x="1696" dy="31">不容迟疑，爱，动手吧! ——徐志</tspan><tspan x="1696" dy="31">摩</tspan></text></g>
<g id="n-r59"><path class="nb" d="M1684 5330H2052L2064 5342V5442H1684Z"/><text class="nt" x="1696" y="5364"><tspan x="1696">59、 到了北京真忙 我看人 人看我</tspan><tspan x="1696" dy="31">几个转身就把白天磨成了夜 ——徐</tspan><tspan x="1696" dy="31">志摩</tspan></text></g>
<g id="n-r1b"><path class="nb" d="M1684 5484H2052L2064 5496V5689H1684Z"/><text class="nt" x="1696" y="5518"><tspan x="1696">1、我们一直在旅行，一直在等待</tspan><tspan x="1696" dy="31">某个人可以成为我们旅途的伴侣，</tspan><tspan x="1696" dy="31">陪我们走过一段别人无法替代的记</tspan><tspan x="1696" dy="31">忆。在那里，有我们特有的记忆，</tspan><tspan x="1696" dy="31">亲情之忆、友谊之花、爱情之树、</tspan><tspan x="1696" dy="31">以及遗憾之泪!</tspan></text></g>
<g id="n-r3b"><path class="nb" d="M1684 5731H2052L2064 5743V5812H1684Z"/><text class="nt" x="1696" y="5765"><tspan x="1696">3、有的事情现在不做，就一辈子</tspan><tspan x="1696" dy="31">也不会做了。</tspan></text></g>
<g id="n-r5b"><path class="nb" d="M1684 5853H2052L2064 5865V6058H1684Z"/><text class="nt" x="1696" y="5887"><tspan x="1696">5、一个人，一条路，人在途中，</tspan><tspan x="1696" dy="31">心随景动，从起点，到尽头，也许</tspan><tspan x="1696" dy="31">快乐，或有时孤独，如果心在远方</tspan><tspan x="1696" dy="31">，只需勇敢前行，梦想自会引路，</tspan><tspan x="1696" dy="31">有多远，走多远，把足迹连成生命</tspan><tspan x="1696" dy="31">线。</tspan></text></g>
<g id="n-r7b"><path class="nb" d="M1684 6100H2052L2064 6112V6181H1684Z"/><text class="nt" x="1696" y="6134"><tspan x="1696">7、因为有梦，所以勇敢出发，选</tspan><tspan x="1696" dy="31">择出发，便只顾风雨兼程。</tspan></text></g>
<g id="n-r9b"><path class="nb" d="M1684 6222H2052L2064 6234V6303H1684Z"/><text class="nt" x="1696" y="6256"><tspan x="1696">9、如果你不出去走走，你就会以</tspan><tspan x="1696" dy="31">为这就是世界。</tspan></text></g>
<g id="watermarks">
<text class="wm" transform="translate(648 510) rotate(-31)" y="40">树图 shutu.cn</text>
<text class="wm" transform="translate(648 1512) rotate(-31)" y="40">树图 shutu.cn</text>
<text class="wm" transform="translate(648 2514) rotate(-31)" y="40">树图 shutu.cn</text>
<text class="wm" transform="translate(648 3516) rotate(-31)" y="40">树图 shutu.cn</text>
<text class="wm" transform="translate(648 4518) rotate(-31)" y="40">树图 shutu.cn</text>
<text class="wm" transform="translate(648 5520) rotate(-31)" y="40">树图 shutu.cn</text>
<text class="wm" transform="translate(648 6522) rotate(-31)" y="40">树图 shutu.cn</text>
<text class="wm" transform="translate(1925 505) rotate(-31)" y="40">树图 shutu.cn</text>
<text class="wm" transform="translate(1925 1507) rotate(-31)" y="40">树图 shutu.cn</text>
<text class="wm" transform="translate(1925 2509) rotate(-31)" y="40">树图 shutu.cn</text>
<text class="wm" transform="translate(1925 3511) rotate(-31)" y="40">树图 shutu.cn</text>
<text class="wm" transform="translate(1925 4513) rotate(-31)" y="40">树图 shutu.cn</text>
<text class="wm" transform="translate(1925 5515) rotate(-31)" y="40">树图 shutu.cn</text>
<text class="wm" transform="translate(1925 6517) rotate(-31)" y="40">树图 shutu.cn</text>
</g>
</g>
</svg>
